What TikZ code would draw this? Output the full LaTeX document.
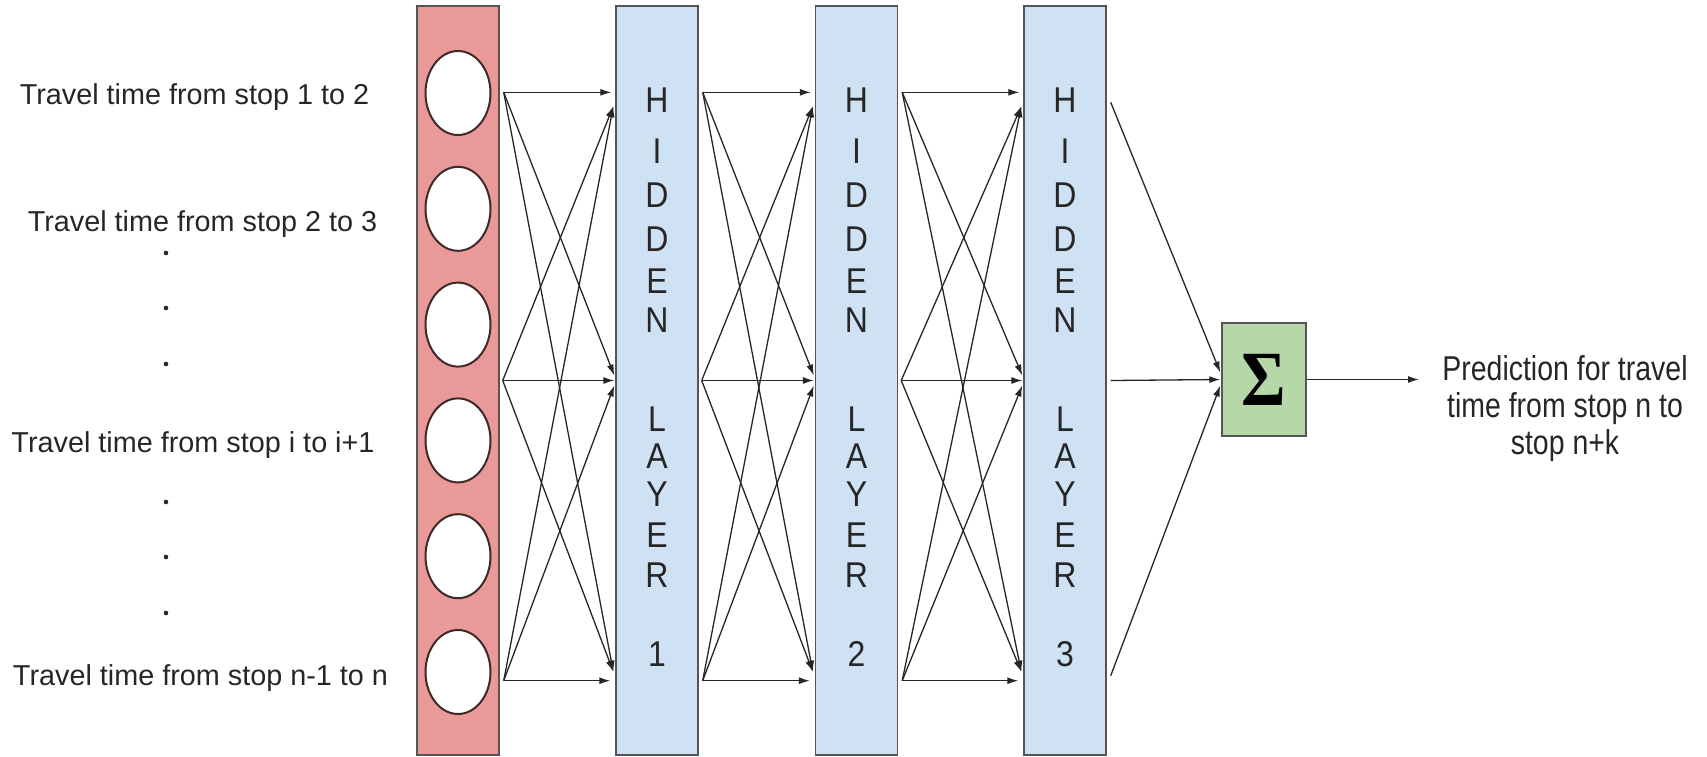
\documentclass[tikz,border=0pt]{standalone}
\usepackage{fontspec}
\setmainfont{Liberation Sans}
\newfontfamily\sigfont{Liberation Serif}
\newfontfamily\predfont[FakeStretch=0.825]{Liberation Sans}
\usetikzlibrary{arrows.meta,calc,shapes.geometric}
\definecolor{inred}{HTML}{EA9999}
\definecolor{hidblue}{HTML}{CFE2F3}
\definecolor{sumgreen}{HTML}{B6D7A8}
\definecolor{edgegray}{HTML}{555555}
\definecolor{linkgray}{HTML}{262626}
\definecolor{ringbrown}{HTML}{3F2A2A}

\begin{document}
\begin{tikzpicture}[x=1pt,y=-1pt,
  layerbox/.style={draw=edgegray, line width=1.4pt, minimum width=82pt,
    minimum height=749pt, inner sep=0pt},
  unit/.style={ellipse, draw=ringbrown, line width=2pt, fill=white,
    minimum width=65pt, minimum height=84pt, inner sep=0pt},
  hidletter/.style={inner sep=0pt, font=\fontsize{32}{32}\selectfont,
    text=black!85},
  lefttext/.style={anchor=base, inner sep=0pt,
    font=\fontsize{28.8}{34}\selectfont, text=black!85},
  dotmark/.style={circle, fill=black!85, minimum size=4.6pt, inner sep=0pt},
  link/.style={draw=linkgray, line width=1.3pt, -{Latex[length=11pt,width=7pt]}},
]
\useasboundingbox (0,0) rectangle (1707,756);

% input layer with its units
\node[layerbox, fill=inred] (L0) at (458,380.5) {};
\foreach \y [count=\k] in {93,208.8,324.6,440.4,556.2,672}
  \node[unit] (u\k) at (458,\y) {};

% hidden layers, each labelled by a vertical column of letters
\foreach \n/\x in {1/657, 2/856.5, 3/1065} {
  \node[layerbox, fill=hidblue] (L\n) at (\x,380.5) {};
  \foreach \ch/\y [count=\k] in {H/100, I/151, D/195, D/239, E/281, N/320,
      L/419, A/456, Y/494, E/535, R/575}
    \node[hidletter] (T\n-\k) at (\x,\y) {\scalebox{1}[1.12]{\ch}};
  \node[hidletter] (T\n-num) at (\x,654) {\scalebox{1}[1.12]{\n}};
}

% input labels
\node[lefttext] (lab1) at (194.5,104) {Travel time from stop 1 to 2};
\node[lefttext] (lab2) at (202.5,231) {Travel time from stop 2 to 3};
\node[lefttext] (lab3) at (193,452) {Travel time from stop i to i+1};
\node[lefttext] (lab4) at (200.5,685) {Travel time from stop n-1 to n};
\foreach \y [count=\k] in {253,308,364,502,557,613}
  \node[dotmark] (dot\k) at (166,\y) {};

% fully connected links between consecutive layers
\foreach \a/\b in {L0/L1, L1/L2, L2/L3} {
  \coordinate (\a-o1) at ($(\a.north east)+(4,87)$);
  \coordinate (\a-o2) at ($(\a.east)+(3,0)$);
  \coordinate (\a-o3) at ($(\a.south east)+(4,-75)$);
  \coordinate (\b-h1) at ($(\b.north west)+(-4,87)$);
  \coordinate (\b-d1) at ($(\b.north west)+(-2,101)$);
  \coordinate (\b-u2) at ($(\b.west)+(-1,-5)$);
  \coordinate (\b-h2) at ($(\b.west)+(-1,0)$);
  \coordinate (\b-l2) at ($(\b.west)+(-1,5)$);
  \coordinate (\b-d3) at ($(\b.south west)+(-2,-84)$);
  \coordinate (\b-h3) at ($(\b.south west)+(-5,-75)$);
  \draw[link] (\a-o1) -- (\b-h1);
  \draw[link] (\a-o1) -- (\b-u2);
  \draw[link] (\a-o1) -- (\b-d3);
  \draw[link] (\a-o2) -- (\b-d1);
  \draw[link] (\a-o2) -- (\b-h2);
  \draw[link] (\a-o2) -- (\b-d3);
  \draw[link] (\a-o3) -- (\b-d1);
  \draw[link] (\a-o3) -- (\b-l2);
  \draw[link] (\a-o3) -- (\b-h3);
}

% summation node
\node[draw=edgegray, line width=1.4pt, fill=sumgreen, minimum width=84pt,
  minimum height=113pt, inner sep=0pt] (sig) at (1264,379.5)
  {\sigfont\bfseries\fontsize{68}{68}\selectfont\scalebox{1}[1.15]{Σ}};

\coordinate (L3-o1) at ($(L3.north east)+(4,97)$);
\coordinate (L3-o2) at ($(L3.east)+(4,0)$);
\coordinate (L3-o3) at ($(L3.south east)+(4,-80)$);
\coordinate (sig-a) at ($(sig.west)+(-1,-7)$);
\coordinate (sig-b) at ($(sig.west)+(-1,0)$);
\coordinate (sig-c) at ($(sig.west)+(-1,6)$);
\draw[link] (L3-o1) -- (sig-a);
\draw[link] (L3-o2) -- (sig-b);
\draw[link] (L3-o3) -- (sig-c);

% output
\node[anchor=north, align=center, inner sep=0pt, text=black!85,
  font=\predfont\fontsize{34.5}{37}\selectfont] (pred) at (1565,355)
  {Prediction for travel\\time from stop n to\\stop n+k};
\coordinate (outtip) at (1419,379.5);
\draw[link] (sig.east) -- (outtip);
\end{tikzpicture}
\end{document}
